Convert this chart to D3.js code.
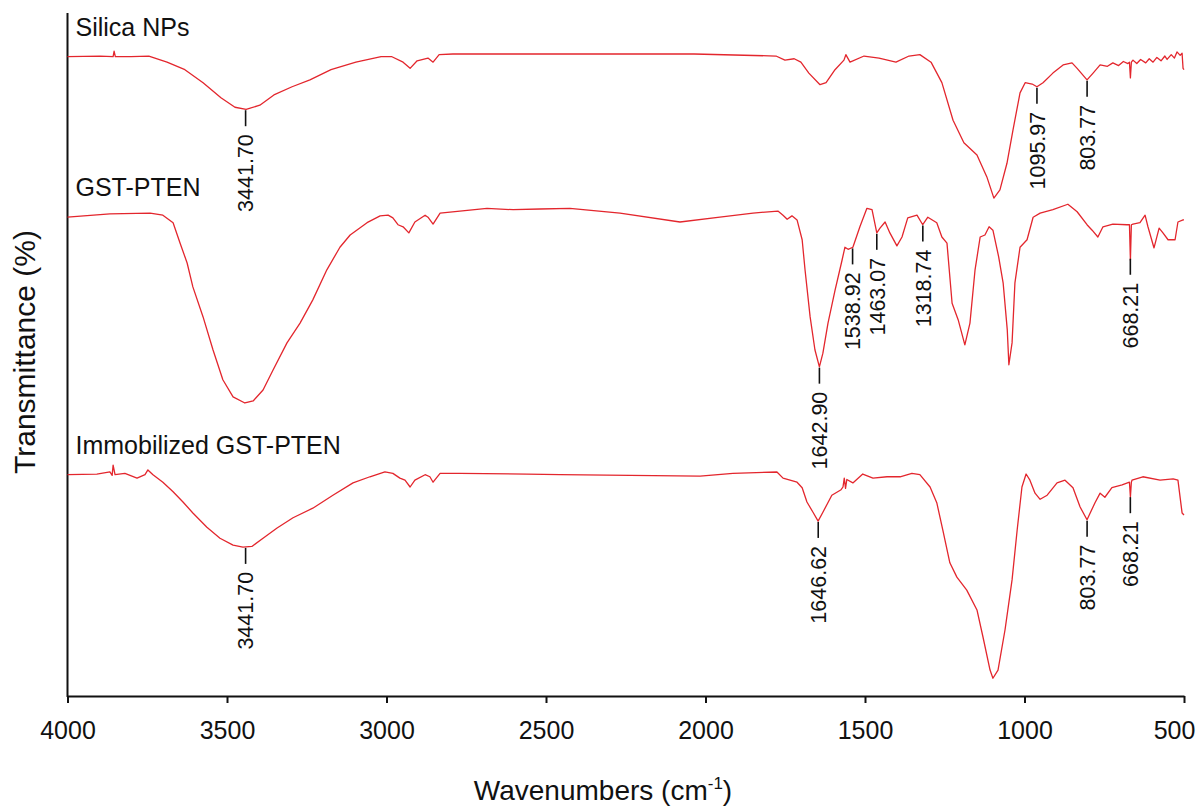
<!DOCTYPE html>
<html>
<head>
<meta charset="utf-8">
<script src="https://cdn.jsdelivr.net/npm/d3@7"></script>
<style>
  body { margin: 0; background: #fff; }
  svg text { font-family: "Liberation Sans", Arial, sans-serif; fill: #111; }
</style>
</head>
<body>
<svg id="chart" width="1201" height="809"></svg>
<script>
"use strict";

// spectra : [nombre d'onde (cm-1), transmittance (%)]
var silicaNPs = [
  [4000, 93.6], [3898, 93.7], [3857, 93.6], [3854, 94.4], [3850, 93.6], [3801, 93.6],
  [3745, 93.7], [3688, 92.8], [3632, 91.7], [3575, 89.8], [3519, 87.6], [3475, 86.2],
  [3440, 85.9], [3397, 86.5], [3353, 88.0], [3296, 89.2], [3240, 90.2], [3174, 91.7],
  [3096, 92.8], [3017, 93.6], [2983, 93.6], [2948, 92.8], [2926, 91.9], [2904, 93.0],
  [2870, 93.4], [2854, 92.8], [2835, 93.9], [2792, 94.0], [2569, 94.0], [2277, 94.0],
  [2036, 94.0], [1779, 93.7], [1751, 93.1], [1722, 93.3], [1701, 92.8], [1676, 91.2],
  [1641, 89.5], [1622, 89.8], [1594, 91.7], [1566, 93.1], [1560, 93.9], [1547, 92.8],
  [1503, 93.7], [1456, 93.4], [1403, 92.8], [1362, 93.7], [1328, 93.9], [1293, 92.8],
  [1259, 89.8], [1224, 84.3], [1190, 81.0], [1149, 79.2], [1118, 76.0], [1096, 72.9],
  [1077, 74.1], [1055, 78.0], [1036, 82.9], [1014, 88.3], [998, 89.8], [976, 89.6],
  [961, 89.2], [942, 89.8], [911, 91.2], [879, 92.4], [851, 92.7], [835, 91.9],
  [804, 90.2], [785, 91.2], [763, 92.4], [740, 92.2], [723, 92.7], [705, 92.3],
  [690, 92.9], [676, 92.6], [671, 92.8], [668, 90.5], [665, 92.8], [660, 93.1],
  [648, 92.6], [636, 93.2], [620, 92.7], [609, 93.3], [597, 92.8], [585, 93.5],
  [572, 93.0], [560, 93.7], [553, 93.2], [540, 93.9], [530, 93.4], [522, 94.3],
  [512, 93.8], [506, 94.1], [503, 91.9], [500, 91.7]
];

var gstPten = [
  [4000, 70.1], [3867, 70.6], [3741, 70.7], [3701, 70.4], [3669, 69.3], [3647, 66.3],
  [3625, 63.4], [3607, 59.9], [3575, 55.5], [3544, 50.7], [3513, 46.3], [3481, 43.8],
  [3444, 42.9], [3418, 43.2], [3387, 44.8], [3356, 47.7], [3312, 51.7], [3271, 54.6],
  [3231, 58.0], [3187, 62.4], [3146, 65.7], [3114, 67.5], [3061, 69.3], [3020, 70.3],
  [2995, 70.4], [2980, 70.0], [2964, 69.0], [2948, 68.7], [2930, 67.8], [2911, 69.4],
  [2879, 70.4], [2870, 70.1], [2854, 69.1], [2832, 70.7], [2770, 71.0], [2685, 71.4],
  [2603, 71.2], [2519, 71.3], [2425, 71.4], [2268, 70.7], [2080, 69.4], [1955, 70.1],
  [1851, 70.7], [1773, 71.0], [1757, 70.4], [1744, 69.8], [1729, 70.3], [1713, 69.7],
  [1697, 66.8], [1688, 62.4], [1672, 55.5], [1657, 50.7], [1643, 48.2], [1632, 50.2],
  [1616, 54.6], [1594, 59.4], [1572, 63.8], [1563, 65.7], [1553, 65.4], [1538, 65.7],
  [1516, 68.7], [1494, 71.4], [1478, 71.2], [1463, 67.8], [1453, 68.5], [1437, 69.4],
  [1422, 67.8], [1400, 65.9], [1384, 67.2], [1366, 70.0], [1337, 70.4], [1319, 69.0],
  [1303, 70.1], [1275, 69.3], [1259, 67.2], [1243, 66.3], [1227, 57.5], [1208, 55.1],
  [1187, 51.4], [1171, 54.6], [1155, 62.4], [1139, 67.2], [1124, 67.5], [1111, 68.7],
  [1099, 68.2], [1081, 64.3], [1067, 60.5], [1054, 53.6], [1049, 48.5], [1039, 51.7],
  [1030, 60.5], [1014, 65.7], [992, 66.8], [973, 70.1], [951, 70.7], [911, 71.2],
  [864, 72.0], [835, 70.9], [804, 69.0], [788, 68.2], [770, 67.2], [754, 68.7],
  [723, 69.1], [679, 69.0], [671, 69.0], [668, 63.8], [665, 69.0], [660, 69.1],
  [638, 69.3], [622, 70.4], [613, 68.7], [594, 65.6], [578, 68.5], [566, 67.8],
  [550, 66.8], [528, 66.8], [519, 69.4], [503, 69.7], [500, 69.7]
];

var immobilizedGstPten = [
  [4000, 32.4], [3908, 32.5], [3867, 32.8], [3860, 32.3], [3857, 33.8], [3851, 32.4],
  [3820, 32.6], [3782, 31.9], [3757, 32.4], [3748, 33.1], [3732, 32.4], [3701, 31.3],
  [3669, 29.9], [3638, 28.4], [3607, 26.8], [3563, 24.7], [3522, 23.1], [3481, 22.1],
  [3450, 21.8], [3422, 21.9], [3387, 23.1], [3343, 24.6], [3293, 26.1], [3231, 27.5],
  [3168, 29.4], [3105, 31.2], [3052, 32.1], [3005, 32.8], [2980, 32.6], [2958, 31.9],
  [2942, 31.6], [2926, 30.6], [2911, 31.6], [2879, 32.4], [2864, 32.1], [2854, 31.3],
  [2832, 32.6], [2770, 32.6], [2560, 32.5], [2456, 32.4], [2017, 32.2], [1914, 32.6],
  [1776, 32.8], [1757, 31.9], [1713, 31.3], [1697, 30.5], [1682, 28.4], [1663, 26.9],
  [1647, 25.6], [1632, 26.9], [1604, 29.4], [1575, 30.2], [1569, 30.6], [1565, 31.9],
  [1561, 30.4], [1557, 31.7], [1538, 31.2], [1507, 32.5], [1475, 31.9], [1431, 32.1],
  [1390, 32.1], [1353, 32.6], [1328, 32.4], [1296, 30.6], [1275, 28.3], [1256, 24.3],
  [1234, 19.5], [1212, 17.4], [1181, 15.5], [1149, 12.6], [1130, 8.6], [1108, 3.8],
  [1099, 2.6], [1083, 3.8], [1061, 9.7], [1039, 17.0], [1023, 24.3], [1008, 30.6],
  [995, 32.5], [983, 31.6], [967, 29.7], [951, 28.8], [929, 29.4], [898, 31.2],
  [873, 31.6], [848, 30.5], [826, 27.7], [804, 25.8], [779, 28.3], [763, 29.7],
  [748, 29.1], [726, 30.5], [694, 30.9], [671, 31.3], [668, 29.1], [665, 31.3],
  [663, 31.6], [629, 32.1], [575, 31.6], [534, 31.8], [519, 31.6], [506, 26.8],
  [500, 26.5]
];

var nomsSeries = ["Silica NPs", "GST-PTEN", "Immobilized GST-PTEN"];
var spectres = [silicaNPs, gstPten, immobilizedGstPten];

// pics annotés : position sur l'axe, texte affiché
var picsSilica = [[3441.7, "3441.70"], [961, "1095.97"], [803.77, "803.77"]];
var picsGst = [[1642.9, "1642.90"], [1538.92, "1538.92"], [1463.07, "1463.07"],
               [1318.74, "1318.74"], [668.21, "668.21"]];
var picsImmobilized = [[3441.7, "3441.70"], [1646.62, "1646.62"], [803.77, "803.77"],
                       [668.21, "668.21"]];
var pics = [picsSilica, picsGst, picsImmobilized];

var xTicks = [4000, 3500, 3000, 2500, 2000, 1500, 1000, 500];

var rouge = "#e3262d";

var svg = d3.select("#chart");

var x = d3.scaleLinear().domain([4000, 500]).range([67.5, 1184]);
var y = d3.scaleLinear().domain([0, 100]).range([696, 13]);

// axe des x
var axeX = svg.append("g")
  .attr("transform", "translate(0," + y(0) + ")")
  .call(d3.axisBottom(x).tickValues(xTicks).tickSize(7).tickSizeOuter(0).tickPadding(18)
        .tickFormat(d3.format("d")));
axeX.select(".domain").attr("stroke", "#111").attr("stroke-width", 2);
axeX.selectAll(".tick line").attr("stroke", "#111").attr("stroke-width", 2);
axeX.selectAll(".tick text").attr("font-size", 25).style("fill", "#111")
  .attr("dx", function(d) { return d === 500 ? -10 : 0; });  // le dernier reste dans le cadre

// axe des y (ligne seule)
svg.append("line")
  .attr("x1", x(4000)).attr("x2", x(4000))
  .attr("y1", y(100)).attr("y2", y(0) + 1)
  .attr("stroke", "#111").attr("stroke-width", 2);

var ligne = d3.line()
  .x(function(d) { return x(d[0]); })
  .y(function(d) { return y(d[1]); });

// valeur interpolée du spectre pour un nombre d'onde
function valeurA(spectre, wn) {
  for (var i = 0; i < spectre.length - 1; i++) {
    var a = spectre[i], b = spectre[i + 1];
    if (wn <= a[0] && wn >= b[0]) {
      var t = (a[0] - wn) / (a[0] - b[0]);
      return a[1] + t * (b[1] - a[1]);
    }
  }
  return spectre[spectre.length - 1][1];
}

spectres.forEach(function(spectre, i) {
  svg.append("path")
    .datum(spectre)
    .attr("d", ligne)
    .attr("fill", "none")
    .attr("stroke", rouge)
    .attr("stroke-width", 1.3)
    .attr("stroke-linejoin", "round");

  svg.append("text")
    .attr("x", x(4000) + 8)
    .attr("y", y(spectre[0][1]) - 21)
    .attr("font-size", 25)
    .text(nomsSeries[i]);

  var g = svg.append("g");
  pics[i].forEach(function(p) {
    var px = x(p[0]);
    var py = y(valeurA(spectre, p[0])) + 1;
    g.append("line")
      .attr("x1", px).attr("x2", px)
      .attr("y1", py).attr("y2", py + 16)
      .attr("stroke", "#111").attr("stroke-width", 1.6);
    g.append("text")
      .attr("transform", "translate(" + px + "," + (py + 24) + ") rotate(-90)")
      .attr("text-anchor", "end")
      .attr("dy", "0.36em")
      .attr("font-size", 21.5)
      .text(p[1]);
  });
});

// titres des axes
var titreX = svg.append("text")
  .attr("x", 603).attr("y", 800)
  .attr("text-anchor", "middle")
  .attr("font-size", 28);
titreX.append("tspan").text("Wavenumbers (cm");
titreX.append("tspan").attr("font-size", 17).attr("dy", -11).text("-1");
titreX.append("tspan").attr("dy", 11).text(")");

svg.append("text")
  .attr("transform", "translate(35,352) rotate(-90)")
  .attr("text-anchor", "middle")
  .attr("font-size", 30)
  .text("Transmittance (%)");
</script>
</body>
</html>
